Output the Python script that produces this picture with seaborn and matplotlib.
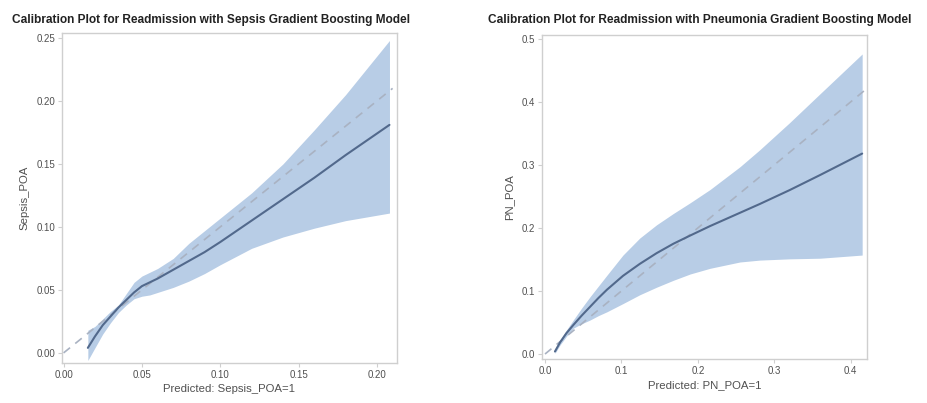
import matplotlib.pyplot as plt
import seaborn as sns
import numpy as np
import pandas as pd

# Sepsis model calibration
sepsis_x = [0.0155, 0.02, 0.025, 0.03, 0.035, 0.04, 0.045, 0.05, 0.055, 0.06, 0.07, 0.08,
            0.09, 0.10, 0.12, 0.14, 0.16, 0.18, 0.208]
sepsis_obs = [0.004, 0.013, 0.022, 0.029, 0.036, 0.042, 0.048, 0.053, 0.056, 0.059, 0.066, 0.073,
              0.080, 0.088, 0.105, 0.122, 0.139, 0.157, 0.181]
sepsis_lo = [-0.006, 0.004, 0.015, 0.024, 0.032, 0.038, 0.043, 0.045, 0.046, 0.048, 0.052, 0.057,
             0.063, 0.070, 0.083, 0.092, 0.099, 0.105, 0.111]
sepsis_hi = [0.018, 0.021, 0.027, 0.033, 0.038, 0.047, 0.056, 0.061, 0.064, 0.067, 0.075, 0.087,
             0.097, 0.107, 0.127, 0.150, 0.177, 0.205, 0.248]
sepsis_diag = [0.0, 0.21]

# Pneumonia model calibration
pn_x = [0.013, 0.02, 0.028, 0.037, 0.048, 0.059, 0.07, 0.081, 0.102, 0.124, 0.146, 0.168,
        0.19, 0.216, 0.255, 0.281, 0.32, 0.36, 0.415]
pn_obs = [0.004, 0.019, 0.033, 0.046, 0.061, 0.075, 0.089, 0.102, 0.124, 0.143, 0.160, 0.175,
          0.188, 0.203, 0.224, 0.238, 0.260, 0.284, 0.318]
pn_lo = [0.001, 0.015, 0.028, 0.041, 0.048, 0.054, 0.061, 0.067, 0.080, 0.094, 0.106, 0.117,
         0.127, 0.136, 0.146, 0.149, 0.151, 0.152, 0.157]
pn_hi = [0.007, 0.023, 0.038, 0.054, 0.073, 0.091, 0.108, 0.125, 0.157, 0.184, 0.205, 0.223,
         0.240, 0.261, 0.297, 0.324, 0.367, 0.413, 0.476]
pn_diag = [0.0, 0.42]

band_color = '#b8cde6'
line_color = '#52698c'
diag_color = '#a9b2c2'
frame_color = '#cfcfcf'
text_color = '#505050'

sns.set_style('white')
plt.rcParams['font.family'] = ['Liberation Sans', 'DejaVu Sans']

fig = plt.figure(figsize=(9.28, 4.03), dpi=100)
ax1 = fig.add_axes([0.0668, 0.0993, 0.361, 0.819])
ax2 = fig.add_axes([0.584, 0.109, 0.350, 0.804])


def draw_panel(ax, x, obs, lo, hi, diag, xlim, ylim, xticks, yticks, fmt, xlabel, ylabel):
    ax.fill_between(x, lo, hi, color=band_color, linewidth=0)
    df_diag = pd.DataFrame({'x': diag, 'y': diag})
    sns.lineplot(data=df_diag, x='x', y='y', ax=ax, color=diag_color, linewidth=1.2,
                 linestyle=(0, (5, 4)))
    df = pd.DataFrame({'x': x, 'y': obs})
    sns.lineplot(data=df, x='x', y='y', ax=ax, color=line_color, linewidth=1.5, sort=False)
    ax.set_xlim(*xlim)
    ax.set_ylim(*ylim)
    ax.set_xticks(xticks)
    ax.set_yticks(yticks)
    ax.set_xticklabels([fmt.format(t) for t in xticks])
    ax.set_yticklabels([fmt.format(t) for t in yticks])
    ax.tick_params(axis='both', direction='out', length=3, width=0.8, color=frame_color,
                   labelsize=7, labelcolor=text_color, pad=2, bottom=True, left=True)
    for s in ax.spines.values():
        s.set_color(frame_color)
        s.set_linewidth(1.0)
    ax.set_xlabel(xlabel, fontsize=8.2, color=text_color, labelpad=3)
    ax.set_ylabel(ylabel, fontsize=8.2, color=text_color, labelpad=5)


draw_panel(ax1, sepsis_x, sepsis_obs, sepsis_lo, sepsis_hi, sepsis_diag,
           (-0.001, 0.2128), (-0.008, 0.254),
           [0.0, 0.05, 0.10, 0.15, 0.20], [0.0, 0.05, 0.10, 0.15, 0.20, 0.25], '{:.2f}',
           'Predicted: Sepsis_POA=1', 'Sepsis_POA')
draw_panel(ax2, pn_x, pn_obs, pn_lo, pn_hi, pn_diag,
           (-0.004, 0.421), (-0.008, 0.506),
           [0.0, 0.1, 0.2, 0.3, 0.4], [0.0, 0.1, 0.2, 0.3, 0.4, 0.5], '{:.1f}',
           'Predicted: PN_POA=1', 'PN_POA')

fig.text(211 / 928, 1 - 20 / 403, 'Calibration Plot for Readmission with Sepsis Gradient Boosting Model',
         ha='center', va='center', fontsize=8.6, fontweight='bold', color='#222222')
fig.text(700 / 928, 1 - 20 / 403, 'Calibration Plot for Readmission with Pneumonia Gradient Boosting Model',
         ha='center', va='center', fontsize=8.6, fontweight='bold', color='#222222')

fig.savefig('out.png', dpi=100)
